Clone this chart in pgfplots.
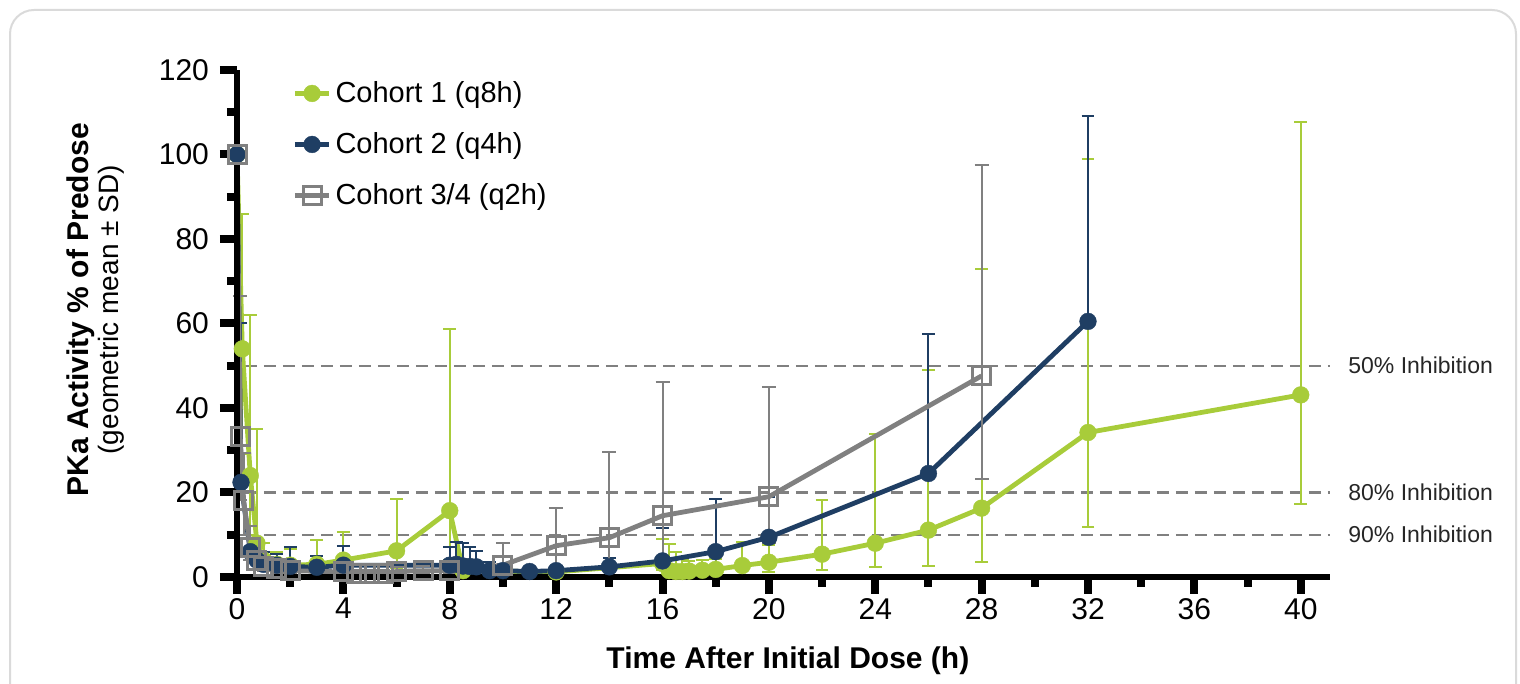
\documentclass[border=0pt]{standalone}
\usepackage{pgfplots}
\usepackage{pgfplotstable}
\pgfplotsset{compat=1.18}
\usepackage{fontspec}
\setmainfont{Liberation Sans}

\definecolor{cgreen}{RGB}{168,204,58}
\definecolor{cblue}{RGB}{31,62,99}
\definecolor{cgray}{RGB}{128,128,128}
\definecolor{cdash}{RGB}{128,128,128}
\definecolor{cframe}{RGB}{218,218,218}

% x = time (h), y = geometric mean, ep/em = upper/lower error
\pgfplotstableread{
x     y     ep    em
0     100   0     0
0.2   54    32    25
0.5   24    38    14
0.75  8     27    5
1     4     4     2
1.5   3     3     1.5
2     2.8   3.8   1.5
3     3     5.8   1.5
4     4     6.6   2
6     6.2   12.2  4
8     15.7  43    11.7
8.5   1.5   2     0.5
12    1.2   1     0.5
16    3.2   5.9   1.5
16.25 1.5   6.2   0.5
16.5  1.3   4.7   0.5
16.75 1.3   3     0.5
17    1.4   2.5   0.5
17.5  1.6   2.5   0.5
18    1.8   2.5   0.7
19    2.7   5.7   1
20    3.5   4     2.3
22    5.4   12.8  3.8
24    8.0   25.8  5.6
26    11.1  37.9  8.5
28    16.3  56.7  12.7
32    34.2  64.7  22.4
40    43.1  64.5  25.8
}\cohortone

\pgfplotstableread{
x     y     ep    em
0     100   0     0
0.15  22.4  37.6  0
0.5   6     6     0
0.75  4     3     0
1     3     3     0
1.5   2.8   2.7   0
2     2.5   4.6   0
3     2.3   2.7   0
4     2.8   4.5   0
8     2.8   4.4   0
8.25  3     5.2   0
8.5   2.6   5.4   0
8.75  2.5   4.5   0
9     2.4   3.8   0
9.5   1.5   2     0
10    1.5   1.5   0
11    1.3   1     0
12    1.5   1     0
14    2.4   2     0
16    3.8   7.8   0
18    6.0   12.5  0
20    9.4   9.6   0
26    24.5  33    0
32    60.5  48.5  0
}\cohorttwo

\pgfplotstableread{
x     y     ep    em
0     100   0     0
0.12  33.3  33.2  15
0.25  18    11.4  8
0.5   7     5     3
0.75  4     3     2
1     2.5   2     1
1.5   2     1.5   1
2     1.5   1     0.7
4     1.2   1     0.5
4.5   0.8   0.8   0.4
5     0.8   0.8   0.4
5.5   0.9   0.8   0.4
6     1.3   1     0.5
7     1.5   1     0.5
8     1.5   1     0.5
10    2.8   5.2   1.4
12    7.4   8.9   5
14    9.3   20.4  6.8
16    14.5  31.6  12.1
20    19.0  26    11
28    47.6  49.8  24.5
}\cohortthree

\begin{document}
\begin{tikzpicture}
\useasboundingbox (0,0) rectangle (760pt,342pt);
\draw[cframe, line width=1pt, rounded corners=12pt]
  (5pt,-20pt) -- (5pt,337pt) -- (758pt,337pt) -- (758pt,-20pt);
\begin{axis}[
  at={(118.5pt,53.5pt)}, anchor=south west,
  scale only axis, width=546.5pt, height=253.5pt,
  xmin=0, xmax=41.1, ymin=0, ymax=120,
  clip=false, axis on top,
  axis lines=left,
  axis line style={-, line width=3pt, black},
  xtick={0,4,...,40}, minor xtick={2,6,...,38},
  ytick={0,20,...,120}, minor ytick={10,30,...,110},
  tick align=outside,
  major tick length=8.5pt, minor tick length=5pt,
  every tick/.style={line width=4pt, black},
  xtick style={line width=4pt, black},
  ytick style={line width=4pt, black},
  every minor tick/.style={line width=4pt, black},
  /pgf/number format/assume math mode=true,
  ticklabel style={font=\fontsize{15}{18}\selectfont},
  yticklabel style={xshift=-2pt},
  xticklabel style={yshift=1.5pt},
  xlabel={Time After Initial Dose (h)},
  xlabel style={at={(axis description cs:0.504,-0.137)}, anchor=north,
    inner sep=0pt, font=\fontsize{15}{18}\selectfont\bfseries},
  ylabel={{\fontsize{15}{18}\selectfont\bfseries PKa Activity \% of Predose}\\[1pt]
          {\fontsize{14}{16}\selectfont (geometric mean ± SD)}},
  ylabel style={at={(axis description cs:-0.1025,0.527)}, anchor=south,
    align=center, inner sep=0pt},
  legend style={at={(axis description cs:0.045,0.994)}, anchor=north west,
    draw=none, fill=none, font=\fontsize{14.5}{17}\selectfont,
    row sep=9.5pt, /tikz/every even column/.append style={column sep=11pt}},
  legend cell align=left,
]
% reference lines
\addplot[cdash, line width=1.2pt, dash pattern=on 6pt off 3.5pt, forget plot]
  coordinates {(0.3,50) (41.1,50)};
\addplot[cdash, line width=1.2pt, dash pattern=on 6pt off 3.5pt, forget plot]
  coordinates {(0.3,20) (41.1,20)};
\addplot[cdash, line width=1.2pt, dash pattern=on 6pt off 3.5pt, forget plot]
  coordinates {(0.3,10) (41.1,10)};
\node[anchor=west, inner sep=0pt, xshift=9pt, font=\fontsize{11.5}{14}\selectfont, text=black!85]
  at (axis cs:41.1,50) {50\% Inhibition};
\node[anchor=west, inner sep=0pt, xshift=9pt, font=\fontsize{11.5}{14}\selectfont, text=black!85]
  at (axis cs:41.1,20) {80\% Inhibition};
\node[anchor=west, inner sep=0pt, xshift=9pt, font=\fontsize{11.5}{14}\selectfont, text=black!85]
  at (axis cs:41.1,10) {90\% Inhibition};

\addplot[color=cgreen, line width=2.4pt, mark=*, mark size=4.2pt,
  mark options={solid, fill=cgreen, draw=cgreen, line width=0.2pt},
  error bars/.cd, y dir=both, y explicit,
  error bar style={line width=1pt},
  error mark options={rotate=90, mark size=3.2pt, line width=1pt}]
  table[x=x, y=y, y error plus=ep, y error minus=em] {\cohortone};
\addlegendentry{Cohort 1 (q8h)}

\addplot[color=cblue, line width=2.4pt, mark=*, mark size=4.2pt,
  mark options={solid, fill=cblue, draw=cblue, line width=0.2pt},
  error bars/.cd, y dir=plus, y explicit,
  error bar style={line width=1pt},
  error mark options={rotate=90, mark size=3.2pt, line width=1pt}]
  table[x=x, y=y, y error plus=ep, y error minus=em] {\cohorttwo};
\addlegendentry{Cohort 2 (q4h)}

\addplot[color=cgray, line width=2.4pt, mark=square, mark size=4.5pt,
  mark options={solid, draw=cgray, fill=none, line width=1.5pt},
  error bars/.cd, y dir=both, y explicit,
  error bar style={line width=1pt},
  error mark options={rotate=90, mark size=3.5pt, line width=1pt}]
  table[x=x, y=y, y error plus=ep, y error minus=em] {\cohortthree};
\addlegendentry{Cohort 3/4 (q2h)}
\end{axis}
\end{tikzpicture}
\end{document}
